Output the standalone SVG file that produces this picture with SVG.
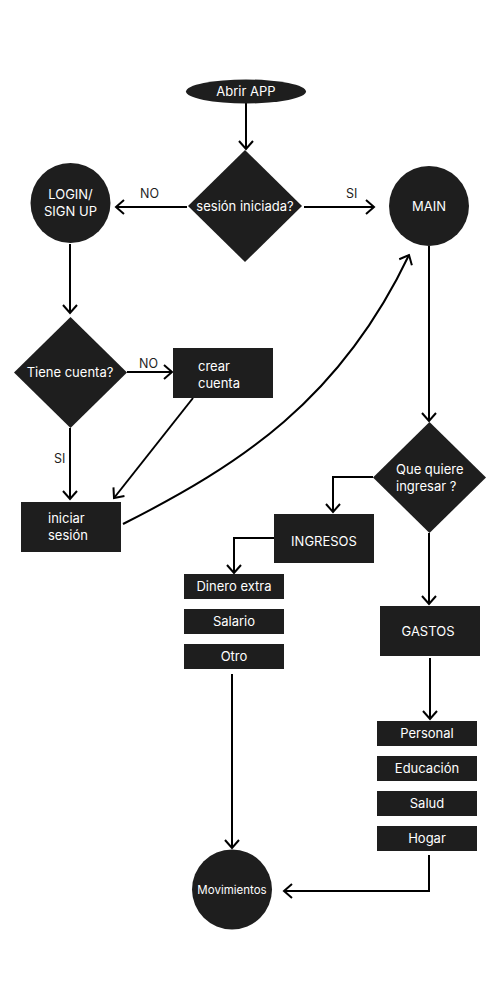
<svg xmlns="http://www.w3.org/2000/svg" width="500" height="1000" viewBox="0 0 500 1000">
<style>
.n{fill:#1e1e1e}
.t{fill:#ffffff;font-family:Inter,"Liberation Sans",sans-serif;font-size:13px}
.tc{text-anchor:middle}
.l{fill:#1e1e1e;font-family:Inter,"Liberation Sans",sans-serif;font-size:12.5px}
.c{fill:none;stroke:#000;stroke-width:2;marker-end:url(#a)}
</style>
<defs>
<marker id="a" markerUnits="userSpaceOnUse" viewBox="-10 -9 12 18" refX="0" refY="0" markerWidth="12" markerHeight="18" orient="auto">
<path d="M-8,-7 L0,0 L-8,7" fill="none" stroke="#000" stroke-width="2"/>
</marker>
</defs>
<rect width="500" height="1000" fill="#ffffff"/>
<g id="connectors">
<path class="c" d="M246,103 V149"/>
<path class="c" d="M187,207 H116"/>
<path class="c" d="M304,207 H374"/>
<path class="c" d="M70,244 V313"/>
<path class="c" d="M127,372 H172"/>
<path class="c" d="M70,428 V499"/>
<path class="c" d="M193,398 L114,498"/>
<path class="c" d="M123,524 C240,465 340,400 409,255"/>
<path class="c" d="M429,246 V421"/>
<path class="c" d="M373,477 H333 V512"/>
<path class="c" d="M274,538 H234 V573"/>
<path class="c" d="M232,674 V848"/>
<path class="c" d="M429,533 V604"/>
<path class="c" d="M430,658 V719"/>
<path class="c" d="M429,855 V891 H284"/>
</g>
<g id="labels">
<text class="l" x="140" y="198">NO</text>
<text class="l" x="346" y="198">SI</text>
<text class="l" x="139" y="368">NO</text>
<text class="l" x="54" y="463">SI</text>
</g>
<g id="abrir"><ellipse class="n" cx="246" cy="91.5" rx="60" ry="12"/><text class="t tc" x="246" y="96">Abrir APP</text></g>
<g id="sesion"><polygon class="n" points="245,150 302,206 245,262 188,206"/><text class="t tc" x="245" y="211">sesión iniciada?</text></g>
<g id="login"><circle class="n" cx="70.5" cy="203" r="40"/><text class="t tc" x="70.5" y="199">LOGIN/</text><text class="t tc" x="70.5" y="216">SIGN UP</text></g>
<g id="main"><circle class="n" cx="429" cy="206" r="40"/><text class="t tc" x="429" y="211">MAIN</text></g>
<g id="tiene"><polygon class="n" points="70.5,317 127,372.5 70.5,428 14,372.5"/><text class="t tc" x="70" y="377">Tiene cuenta?</text></g>
<g id="crear"><rect class="n" x="173" y="348" width="100" height="50"/><text class="t" x="198" y="371">crear</text><text class="t" x="198" y="388">cuenta</text></g>
<g id="iniciar"><rect class="n" x="21" y="502" width="100" height="50"/><text class="t" x="48" y="523">iniciar</text><text class="t" x="48" y="540">sesión</text></g>
<g id="quiere"><polygon class="n" points="429.5,422 486,477.5 429.5,533 373,477.5"/><text class="t" x="396" y="474">Que quiere</text><text class="t" x="396" y="491">ingresar ?</text></g>
<g id="ingresos"><rect class="n" x="274" y="514" width="100" height="49"/><text class="t tc" x="324" y="546">INGRESOS</text></g>
<g id="dinero"><rect class="n" x="184" y="574" width="100" height="25"/><text class="t tc" x="234" y="591">Dinero extra</text></g>
<g id="salario"><rect class="n" x="184" y="609" width="100" height="25"/><text class="t tc" x="234" y="626">Salario</text></g>
<g id="otro"><rect class="n" x="184" y="644" width="100" height="25"/><text class="t tc" x="234" y="661">Otro</text></g>
<g id="gastos"><rect class="n" x="380" y="606" width="100" height="50"/><text class="t tc" x="428" y="636">GASTOS</text></g>
<g id="personal"><rect class="n" x="377" y="721" width="100" height="25"/><text class="t tc" x="427" y="738">Personal</text></g>
<g id="educacion"><rect class="n" x="377" y="756" width="100" height="25"/><text class="t tc" x="427" y="773">Educación</text></g>
<g id="salud"><rect class="n" x="377" y="791" width="100" height="25"/><text class="t tc" x="427" y="808">Salud</text></g>
<g id="hogar"><rect class="n" x="377" y="826" width="100" height="25"/><text class="t tc" x="427" y="843">Hogar</text></g>
<g id="movimientos"><circle class="n" cx="232" cy="889.5" r="40"/><text class="t tc" x="232" y="893.5" style="font-size:11.5px">Movimientos</text></g>
</svg>
